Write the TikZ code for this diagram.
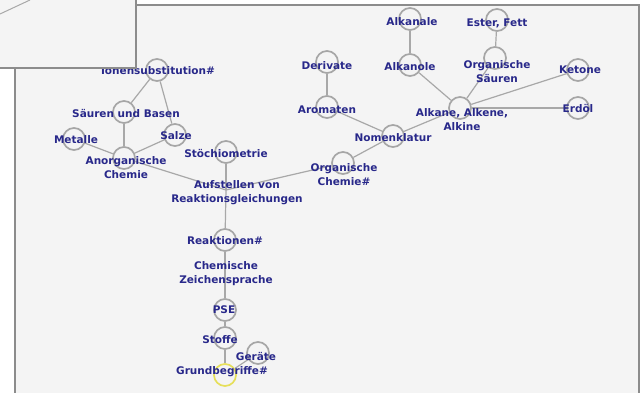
\documentclass[tikz,border=0pt]{standalone}
\usepackage{fontspec}
\setmainfont{DejaVu Sans}
\begin{document}
\definecolor{pagebg}{HTML}{F4F4F4}
\definecolor{framegray}{HTML}{8C8C8C}
\definecolor{ringgray}{HTML}{A6A6A6}
\definecolor{edgegray}{HTML}{A8A8A8}
\definecolor{inkblue}{HTML}{28288A}
\definecolor{rootyellow}{HTML}{E6DF5A}
\begin{tikzpicture}[x=1pt,y=-1pt,
  ring/.style={circle,draw=ringgray,line width=1.7pt,minimum size=22pt,inner sep=0pt},
  rootring/.style={ring,draw=rootyellow},
  lbl/.style={text=inkblue,font=\bfseries\fontsize{10.5}{14}\selectfont,align=center,inner sep=0pt},
  link/.style={draw=edgegray,line width=1.2pt}]
\useasboundingbox (0,0) rectangle (641,393);
% map canvas
\fill[white] (0,0) rectangle (641,393);
\fill[pagebg] (15,5) rectangle (639,393);
\draw[framegray,line width=1.5pt] (15,393) -- (15,5) -- (639,5) -- (639,393);

% circles
\node[ring] (ion) at (157,70) {};
\node[ring] (sub) at (124,112) {};
\node[ring] (salze) at (175,135) {};
\node[ring] (metalle) at (74,139) {};
\node[ring] (anorg) at (124,158) {};
\node[ring] (stoech) at (226,152) {};
\coordinate (aufst) at (226,190);
\node[ring] (react) at (225,240) {};
\coordinate (zeichen) at (225,274);
\node[ring] (pse) at (225,310) {};
\node[ring] (stoffe) at (225,338) {};
\node[ring] (geraete) at (258,353) {};
\node[rootring] (grund) at (225,375) {};
\node[ring] (orgch) at (343,163) {};
\node[ring] (nomen) at (393,136) {};
\node[ring] (arom) at (327,107) {};
\node[ring] (deriv) at (327,62) {};
\node[ring] (alkane) at (460,108) {};
\node[ring] (alkanole) at (410,65) {};
\node[ring] (alkanale) at (410,19) {};
\node[ring] (ester) at (497,20) {};
\node[ring] (orgsaeu) at (495,58) {};
\node[ring] (ketone) at (578,70) {};
\node[ring] (erdoel) at (578,108) {};

% connections
\path[link] (ion) -- (sub);
\path[link] (ion) -- (salze);
\path[link] (sub) -- (anorg);
\path[link] (salze) -- (anorg);
\path[link] (metalle) -- (anorg);
\path[link] (anorg) -- (aufst);
\path[link] (stoech) -- (aufst);
\path[link] (orgch) -- (aufst);
\path[link] (aufst) -- (react);
\path[link] (react) -- (zeichen);
\path[link] (zeichen) -- (pse);
\path[link] (pse) -- (stoffe);
\path[link] (stoffe) -- (grund);
\path[link] (geraete) -- (grund);
\path[link] (orgch) -- (nomen);
\path[link] (nomen) -- (arom);
\path[link] (arom) -- (deriv);
\path[link] (nomen) -- (alkane);
\path[link] (alkane) -- (alkanole);
\path[link] (alkanole) -- (alkanale);
\path[link] (alkane) -- (orgsaeu);
\path[link] (orgsaeu) -- (ester);
\path[link] (alkane) -- (ketone);
\path[link] (alkane) -- (erdoel);

% labels
\node[lbl] (t-ion) at (158,71) {Ionensubstitution\#};
\node[lbl] (t-sub) at (126,114) {Säuren und Basen};
\node[lbl] (t-salze) at (176,136) {Salze};
\node[lbl] (t-metalle) at (76,140) {Metalle};
\node[lbl] (t-anorg) at (126,168) {Anorganische\\Chemie};
\node[lbl] (t-stoech) at (226,154) {Stöchiometrie};
\node[lbl] (t-aufst) at (237,193) {Aufstellen von\\Reaktionsgleichungen};
\node[lbl] (t-react) at (225,241) {Reaktionen\#};
\node[lbl] (t-zeichen) at (226,274) {Chemische\\Zeichensprache};
\node[lbl] (t-pse) at (224,310) {PSE};
\node[lbl] (t-stoffe) at (220,340) {Stoffe};
\node[lbl] (t-geraete) at (256,357) {Geräte};
\node[lbl] (t-grund) at (222,372) {Grundbegriffe\#};
\node[lbl] (t-orgch) at (344,175) {Organische\\Chemie\#};
\node[lbl] (t-nomen) at (393,138) {Nomenklatur};
\node[lbl] (t-arom) at (327,110) {Aromaten};
\node[lbl] (t-deriv) at (327,66) {Derivate};
\node[lbl] (t-alkane) at (462,120) {Alkane, Alkene,\\Alkine};
\node[lbl] (t-alkanole) at (410,67) {Alkanole};
\node[lbl] (t-alkanale) at (412,22) {Alkanale};
\node[lbl] (t-ester) at (497,23) {Ester, Fett};
\node[lbl] (t-orgsaeu) at (497,72) {Organische\\Säuren};
\node[lbl] (t-ketone) at (580,70) {Ketone};
\node[lbl] (t-erdoel) at (578,109) {Erdöl};

% small panel overlapping the top left corner
\fill[pagebg] (0,0) rectangle (136,68);
\draw[framegray,line width=1.5pt] (136,0) -- (136,68) -- (0,68);
\draw[edgegray,line width=1pt] (0,14) -- (30,0);
\end{tikzpicture}
\end{document}
